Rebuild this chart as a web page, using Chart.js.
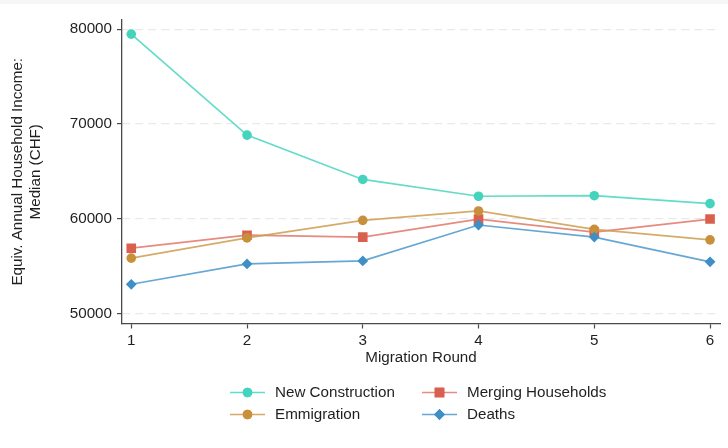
<!DOCTYPE html>
<html>
<head>
<meta charset="utf-8">
<script src="https://cdn.jsdelivr.net/npm/chart.js@4/dist/chart.umd.min.js"></script>
<style>
  html, body { margin: 0; padding: 0; background: #ffffff; }
  #wrap { position: relative; width: 728px; height: 448px; }
  #topband { position: absolute; left: 0; top: 0; width: 728px; height: 4px; background: #f6f6f6; }
  canvas { display: block; }
</style>
</head>
<body>
<div id="wrap">
  <canvas id="chart" width="728" height="448"></canvas>
  <div id="topband"></div>
</div>
<script>
// Migration rounds on the x axis
const rounds = [1, 2, 3, 4, 5, 6];
const yTicks = [50000, 60000, 70000, 80000];

// Median equivalised annual household income (CHF) by source of vacancy
const newConstruction = [79470, 68840, 64170, 62400, 62460, 61620];
const mergingHouseholds = [56930, 58300, 58100, 59990, 58620, 60000];
const emmigration = [55880, 58020, 59860, 60850, 58910, 57810];
const deaths = [53130, 55270, 55590, 59370, 58100, 55490];

const FONT = "'Liberation Sans', Arial, Helvetica, sans-serif";
const FS = 15.2;
const TEXT = '#1f1f1f';
const AXIS = '#4a4a4a';

function pts(vals) { return rounds.map((r, i) => ({ x: r, y: vals[i] })); }

function series(label, vals, line, marker, style, radius, order) {
  return {
    label, data: pts(vals), order,
    borderColor: line, borderWidth: 1.7,
    backgroundColor: marker,
    pointBackgroundColor: marker, pointBorderColor: marker, pointBorderWidth: 0,
    pointStyle: style, pointRadius: radius, pointHoverRadius: radius,
    tension: 0, fill: false
  };
}

// Two-column legend drawn under the plot
const gridLegend = {
  id: 'gridLegend',
  afterDraw(chart) {
    const ctx = chart.ctx;
    const cells = [
      { ds: 0, x: 230, y: 392.5 }, { ds: 1, x: 422, y: 392.5 },
      { ds: 2, x: 230, y: 414.5 }, { ds: 3, x: 422, y: 414.5 }
    ];
    ctx.save();
    ctx.font = FS + 'px ' + FONT;
    ctx.textBaseline = 'middle';
    cells.forEach(c => {
      const d = chart.data.datasets[c.ds];
      ctx.strokeStyle = d.borderColor;
      ctx.lineWidth = 1.7;
      ctx.beginPath();
      ctx.moveTo(c.x, c.y);
      ctx.lineTo(c.x + 35, c.y);
      ctx.stroke();
      ctx.fillStyle = d.pointBackgroundColor;
      Chart.helpers.drawPoint(ctx, { pointStyle: d.pointStyle, radius: d.pointRadius, borderWidth: 0 }, c.x + 17.5, c.y);
      ctx.fill();
      ctx.fillStyle = TEXT;
      ctx.fillText(d.label, c.x + 45, c.y + 0.5);
    });
    ctx.restore();
  }
};

new Chart(document.getElementById('chart'), {
  type: 'line',
  data: {
    datasets: [
      series('New Construction', newConstruction, 'rgba(72,214,190,0.85)', '#44d3bc', 'circle', 4.8, 4),
      series('Merging Households', mergingHouseholds, 'rgba(222,110,95,0.8)', '#d9604e', 'rect', 6.8, 3),
      series('Emmigration', emmigration, 'rgba(206,156,80,0.85)', '#c9903c', 'circle', 4.8, 2),
      series('Deaths', deaths, 'rgba(76,152,204,0.85)', '#3e8fc6', 'rectRot', 5.4, 1)
    ]
  },
  options: {
    responsive: false,
    animation: false,
    layout: { padding: { top: 20, right: 8, bottom: 81, left: 0 } },
    plugins: { legend: { display: false }, tooltip: { enabled: false } },
    scales: {
      x: {
        type: 'linear', min: 0.92, max: 6.086,
        afterBuildTicks: s => { s.ticks = rounds.map(v => ({ value: v })); },
        afterFit: s => { s.height = 43.5; },
        grid: { display: true, drawOnChartArea: false, drawTicks: true, tickLength: 5, tickColor: AXIS, tickWidth: 1.2 },
        border: { display: true, color: AXIS, width: 1.3 },
        ticks: { color: TEXT, font: { family: FONT, size: FS }, padding: 3, maxRotation: 0, callback: v => String(v) },
        title: { display: true, text: 'Migration Round', color: TEXT, font: { family: FONT, size: FS }, padding: { top: 0, bottom: 0 } }
      },
      y: {
        min: 49000, max: 80960,
        afterBuildTicks: s => { s.ticks = yTicks.map(v => ({ value: v })); },
        afterFit: s => { s.width = 122; },
        grid: { display: true, drawOnChartArea: true, drawTicks: true, tickLength: 5, color: '#e9e9e9', lineWidth: 1.2, tickColor: AXIS, tickWidth: 1.2 },
        border: { display: true, color: AXIS, width: 1.3, dash: [8, 5] },
        ticks: { color: TEXT, font: { family: FONT, size: FS }, padding: 5, callback: v => String(v) },
        title: {
          display: true,
          text: ['Equiv. Annual Household Income:', 'Median (CHF)'],
          color: TEXT, font: { family: FONT, size: FS, lineHeight: 1.18 },
          padding: { top: 9, bottom: 0 }
        }
      }
    }
  },
  plugins: [gridLegend]
});
</script>
</body>
</html>
